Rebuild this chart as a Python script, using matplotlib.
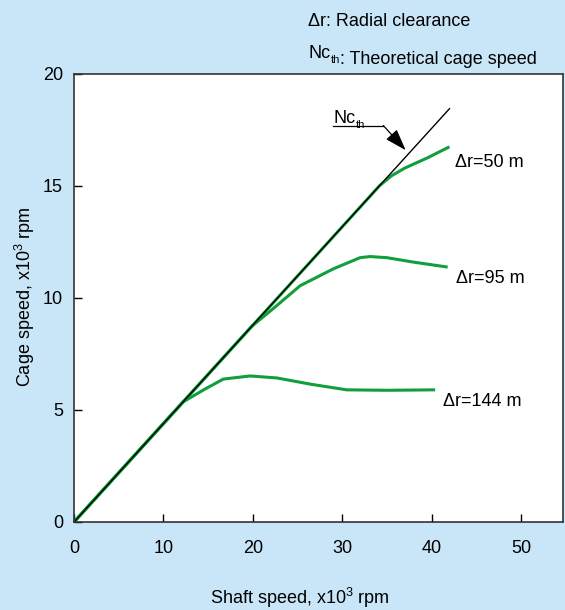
import matplotlib
matplotlib.use("Agg")
import matplotlib.pyplot as plt

plt.rcParams['font.family'] = ['Liberation Sans', 'DejaVu Sans']
plt.rcParams['mathtext.fontset'] = 'custom'
plt.rcParams['mathtext.rm'] = 'Liberation Sans'

# theoretical cage speed line
shaft_th = [0, 42]
cage_th = [0, 18.45]

# measured curves (x10^3 rpm)
shaft_50 = [0, 34.2, 35.5, 37.0, 39.5, 42.0]
cage_50 = [0, 15.02, 15.45, 15.8, 16.25, 16.75]

shaft_95 = [0, 19.9, 22.5, 25.3, 29.0, 32.0, 33.1, 35.0, 38.0, 41.8]
cage_95 = [0, 8.74, 9.6, 10.55, 11.3, 11.8, 11.85, 11.8, 11.6, 11.38]

shaft_144 = [0, 12.2, 14.5, 16.7, 19.7, 22.7, 26.5, 30.5, 35.0, 40.4]
cage_144 = [0, 5.36, 5.9, 6.38, 6.52, 6.43, 6.15, 5.9, 5.88, 5.9]

curve_labels = ['\u0394r=50 m', '\u0394r=95 m', '\u0394r=144 m']

bg = '#C9E6F8'
green = '#119E3C'
fs = 13


def nc_th(xy, coords, ax, tail=''):
    # "Nc" with a small "th" subscript, optionally followed by more text
    nc = ax.annotate('Nc', xy=xy, xycoords=coords, fontsize=fs,
                     va='baseline', ha='left', annotation_clip=False)
    th = ax.annotate('th', xy=(1, 0), xycoords=nc, xytext=(0.3, -1),
                     textcoords='offset points', fontsize=8, va='baseline',
                     ha='left', annotation_clip=False)
    if tail:
        ax.annotate(tail, xy=(1, 0), xycoords=th, xytext=(0, 1),
                    textcoords='offset points', fontsize=fs, va='baseline',
                    ha='left', annotation_clip=False)


fig = plt.figure(figsize=(5.65, 6.10), dpi=100, facecolor=bg)
ax = fig.add_axes([74/565, 88/610, (563-74)/565, (522-74)/610])
ax.set_facecolor('white')

for xs, ys in [(shaft_50, cage_50), (shaft_95, cage_95), (shaft_144, cage_144)]:
    ax.plot(xs, ys, color=green, lw=2.2, solid_capstyle='butt')
ax.plot(shaft_th, cage_th, color='black', lw=1.0)

ax.text(42.6, 16.07, curve_labels[0], fontsize=fs, va='center', ha='left')
ax.text(42.7, 10.85, curve_labels[1], fontsize=fs, va='center', ha='left')
ax.text(41.3, 5.4, curve_labels[2], fontsize=fs, va='center', ha='left')

# Nc_th pointer
ax.plot([29.0, 34.6], [17.7, 17.7], color='black', lw=0.9)
ax.annotate('', xy=(37.1, 16.6), xytext=(34.6, 17.7),
            arrowprops=dict(arrowstyle='-|>,head_length=0.95,head_width=0.32',
                            color='black', lw=0.9,
                            mutation_scale=14, shrinkA=0, shrinkB=0))
nc_th((29.0, 17.83), 'data', ax)

ax.set_xlim(0, 54.7)
ax.set_ylim(0, 20)
ax.set_xticks([0, 10, 20, 30, 40, 50])
ax.set_yticks([0, 5, 10, 15, 20])
ax.tick_params(direction='in', length=6, width=1, labelsize=fs)
ax.tick_params(axis='x', pad=13)
ax.tick_params(axis='y', pad=8)
for s in ax.spines.values():
    s.set_linewidth(1.2)
    s.set_color('#333333')

fig.text(300/565, 1 - 598/610, r'Shaft speed, x10$^\mathregular{3}$ rpm',
         fontsize=fs, ha='center', va='center')
fig.text(25/565, 1 - 297/610, r'Cage speed, x10$^\mathregular{3}$ rpm',
         fontsize=fs, ha='center', va='center', rotation=90)

fig.text(308/565, 1 - 21/610, '\u0394r: Radial clearance', fontsize=fs,
         ha='left', va='center')
nc_th((308/565, 1 - 58/610), 'figure fraction', ax, ': Theoretical cage speed')

fig.savefig('out.png', dpi=100, facecolor=bg)
